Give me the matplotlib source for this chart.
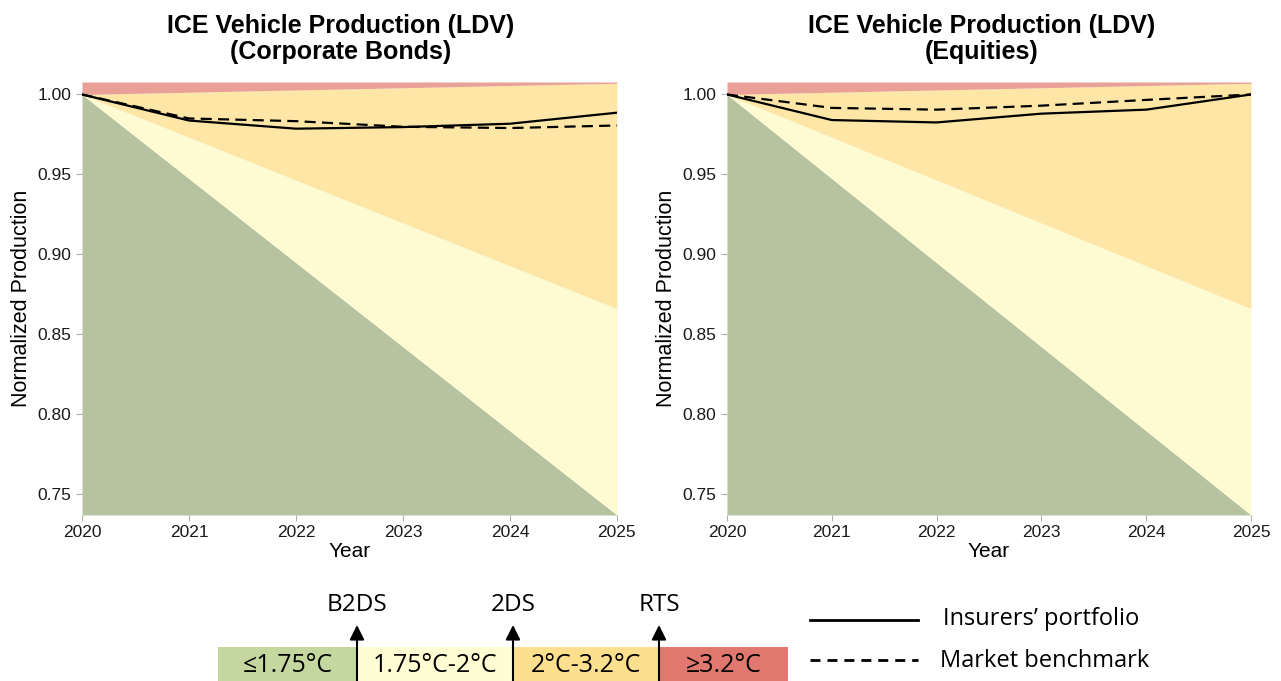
import matplotlib.pyplot as plt
import matplotlib.patches as mpatches

# scenario band edges (start/end of the horizon)
band_years = [2020, 2025]
b2ds_edge = [1.0, 0.737]
sds_edge = [1.0, 0.866]
rts_edge = [1.0, 1.007]
y_lo = 0.737
y_hi = 1.0078

years = [2020, 2021, 2022, 2023, 2024, 2025]
bonds_portfolio = [1.0, 0.9837, 0.9786, 0.9796, 0.9817, 0.9886]
bonds_benchmark = [1.0, 0.9850, 0.9833, 0.9798, 0.9790, 0.9806]
eq_portfolio = [1.0, 0.9840, 0.9825, 0.9880, 0.9905, 1.0]
eq_benchmark = [1.0, 0.9916, 0.9905, 0.9930, 0.9966, 1.0]

titles = ['ICE Vehicle Production (LDV)\n(Corporate Bonds)',
          'ICE Vehicle Production (LDV)\n(Equities)']
yticks = [0.75, 0.80, 0.85, 0.90, 0.95, 1.00]

band_labels = ['≤1.75°C', '1.75°C-2°C', '2°C-3.2°C', '≥3.2°C']
scen_labels = ['B2DS', '2DS', 'RTS']
legend_labels = ['Insurers’ portfolio', 'Market benchmark']

fill_cols = ['#b7c3a0', '#fefbd3', '#fde6a6', '#e9a097']
box_cols = ['#c4d79f', '#fefdd4', '#fde08e', '#e07870']

plt.rcParams['font.family'] = ['Liberation Sans', 'DejaVu Sans']
key_font = ['Open Sans', 'DejaVu Sans']

fig = plt.figure(figsize=(12.81, 6.81), dpi=100)
ax1 = fig.add_axes([0.064, 0.2438, 0.4176, 0.6358])
ax2 = fig.add_axes([0.5675, 0.2438, 0.4091, 0.6358])

for ax, title, tx, port, bench in [(ax1, titles[0], 341, bonds_portfolio, bonds_benchmark),
                                   (ax2, titles[1], 982, eq_portfolio, eq_benchmark)]:
    ax.fill_between(band_years, [y_lo, y_lo], b2ds_edge, color=fill_cols[0], lw=0)
    ax.fill_between(band_years, b2ds_edge, sds_edge, color=fill_cols[1], lw=0)
    ax.fill_between(band_years, sds_edge, rts_edge, color=fill_cols[2], lw=0)
    ax.fill_between(band_years, rts_edge, [y_hi, y_hi], color=fill_cols[3], lw=0)
    ax.plot(years, port, color='black', lw=1.6)
    ax.plot(years, bench, color='black', lw=1.6, ls=(0, (5, 2.8)))
    ax.set_xlim(2020, 2025)
    ax.set_ylim(y_lo, y_hi)
    ax.set_yticks(yticks)
    ax.set_yticklabels(['%.2f' % t for t in yticks])
    ax.set_xticks(years)
    for s in ax.spines.values():
        s.set_visible(False)
    ax.tick_params(colors='#b0b0b0', labelcolor='#1a1a1a', labelsize=12.5, length=4)
    ax.set_xlabel('Year', fontsize=15, labelpad=1)
    ax.set_ylabel('Normalized Production', fontsize=15.5, labelpad=4)
    fig.text(tx / 1281, 1 - 39 / 681, title, ha='center', va='center',
             fontsize=18, fontweight='bold', linespacing=1.08)

# bottom key, drawn in pixel space
leg = fig.add_axes([0, 0, 1, 1], facecolor='none')
leg.set_xlim(0, 1281)
leg.set_ylim(681, 0)
leg.axis('off')
edges = [218, 357, 513, 659, 788]
for i, lab in enumerate(band_labels):
    leg.add_patch(mpatches.Rectangle((edges[i], 647), edges[i + 1] - edges[i], 36,
                                     color=box_cols[i], lw=0))
    leg.text((edges[i] + edges[i + 1]) / 2, 665, lab, ha='center', va='center',
             fontsize=18, family=key_font)
for x, lab in zip(edges[1:4], scen_labels):
    leg.annotate('', xy=(x, 625), xytext=(x, 681),
                 arrowprops=dict(arrowstyle='-|>', color='black', lw=1.5,
                                 mutation_scale=22, shrinkA=0, shrinkB=0))
    leg.text(x, 605, lab, ha='center', va='center', fontsize=17.5, family=key_font)

leg.plot([810, 918], [620, 620], color='black', lw=2)
leg.plot([810, 918], [660, 660], color='black', lw=2, ls=(0, (3.6, 2.5)))
leg.text(943, 619, legend_labels[0], va='center', fontsize=17, family=key_font)
leg.text(940, 661, legend_labels[1], va='center', fontsize=17, family=key_font)

fig.savefig('out.png', dpi=100)
